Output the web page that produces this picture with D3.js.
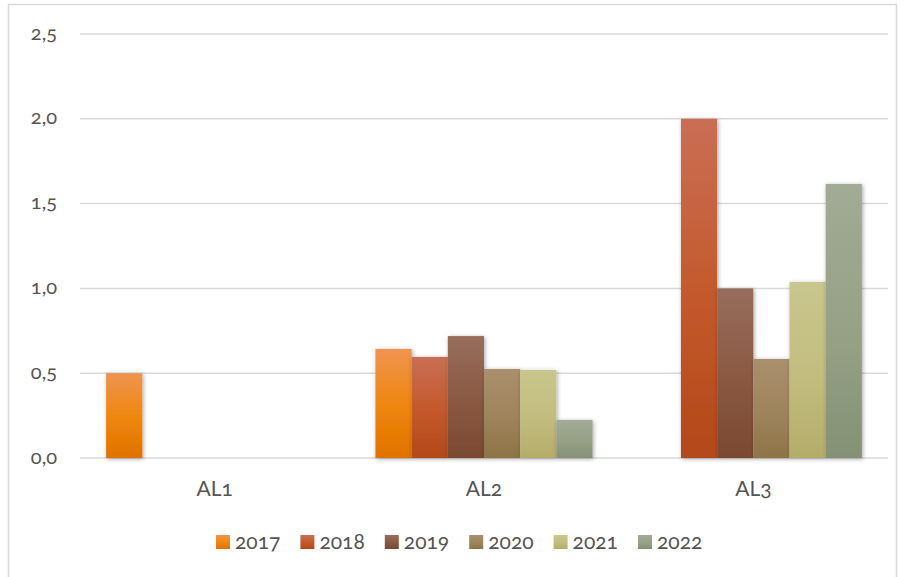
<!DOCTYPE html>
<html>
<head>
<meta charset="utf-8">
<script src="https://cdn.jsdelivr.net/npm/d3@7"></script>
<style>
  html, body { margin: 0; padding: 0; background: #fff; }
  svg text { font-family: Lato, "Open Sans", sans-serif; font-variant-numeric: oldstyle-nums; fill: #545454; }
</style>
</head>
<body>
<svg id="chart" width="904" height="577"></svg>
<script>
const categories = ["AL1", "AL2", "AL3"];
const years = ["2017", "2018", "2019", "2020", "2021", "2022"];
const values2017 = [0.50, 0.643, 0];
const values2018 = [0, 0.596, 2.00];
const values2019 = [0, 0.719, 1.00];
const values2020 = [0, 0.525, 0.584];
const values2021 = [0, 0.519, 1.038];
const values2022 = [0, 0.224, 1.616];
const yTicks = [0, 0.5, 1.0, 1.5, 2.0, 2.5];

const seriesValues = [values2017, values2018, values2019, values2020, values2021, values2022];
// gradient stops per series: top, middle, bottom
const palette = [
  ["#EF9450", "#EE860A", "#DF7200"],
  ["#C96E55", "#C3582A", "#B3481A"],
  ["#976E5D", "#8A5841", "#7A4931"],
  ["#AA8F6E", "#9E845C", "#8E7346"],
  ["#C9C68E", "#C2BD7E", "#B4AD6A"],
  ["#A1AB96", "#96A186", "#849175"]
];

const svg = d3.select("#chart");
const plotLeft = 80, plotRight = 888, plotTop = 34, plotBottom = 458;

// outer frame
svg.append("rect").attr("x", 8.5).attr("y", 4.5).attr("width", 888).attr("height", 580)
  .attr("fill", "none").attr("stroke", "#D9D9D9").attr("stroke-width", 1.5);

const defs = svg.append("defs");
palette.forEach((c, i) => {
  const g = defs.append("linearGradient").attr("id", "grad" + i)
    .attr("x1", 0).attr("y1", 0).attr("x2", 0).attr("y2", 1);
  g.append("stop").attr("offset", "0%").attr("stop-color", c[0]);
  g.append("stop").attr("offset", "55%").attr("stop-color", c[1]);
  g.append("stop").attr("offset", "100%").attr("stop-color", c[2]);
});
const shadow = defs.append("filter").attr("id", "shadow")
  .attr("x", "-30%").attr("y", "-10%").attr("width", "160%").attr("height", "120%");
shadow.append("feDropShadow").attr("dx", 1).attr("dy", 1).attr("stdDeviation", 2.2)
  .attr("flood-color", "#000").attr("flood-opacity", 0.35);

const y = d3.scaleLinear().domain([0, 2.5]).range([plotBottom, plotTop]);
const x0 = d3.scaleBand().domain(categories).range([plotLeft, plotRight]);
// each group of six bars spans ~80% of its category
const groupWidth = x0.bandwidth() * 0.806;
const x1 = d3.scaleBand().domain(years)
  .range([(x0.bandwidth() - groupWidth) / 2, (x0.bandwidth() + groupWidth) / 2]);

const fmt = v => d3.format(".1f")(v).replace(".", ",");

// gridlines
svg.append("g").selectAll("line").data(yTicks).join("line")
  .attr("x1", plotLeft).attr("x2", plotRight)
  .attr("y1", d => y(d)).attr("y2", d => y(d))
  .attr("stroke", "#D9D9D9").attr("stroke-width", 1.5);

// y axis labels
const yAxis = svg.append("g").attr("transform", `translate(${plotLeft - 23},0)`)
  .call(d3.axisLeft(y).tickValues(yTicks).tickFormat(fmt).tickSize(0).tickPadding(0));
yAxis.select(".domain").remove();
yAxis.selectAll("text").attr("font-size", 20).attr("dy", "0.25em");

// bars
const groups = svg.append("g").selectAll("g").data(categories).join("g")
  .attr("transform", d => `translate(${x0(d)},0)`);
groups.selectAll("rect")
  .data((cat, ci) => years.map((yr, si) => ({ yr, si, v: seriesValues[si][ci] })).filter(d => d.v > 0))
  .join("rect")
  .attr("x", d => x1(d.yr))
  .attr("width", x1.bandwidth())
  .attr("y", d => y(d.v))
  .attr("height", d => y(0) - y(d.v))
  .attr("fill", d => `url(#grad${d.si})`)
  .attr("filter", "url(#shadow)");

// x axis labels
const xAxis = svg.append("g").attr("transform", `translate(0,${plotBottom})`)
  .call(d3.axisBottom(x0).tickSize(0).tickPadding(31));
xAxis.select(".domain").remove();
xAxis.selectAll("text").attr("font-size", 21).attr("dy", "0.32em");

// legend
const legend = svg.append("g").selectAll("g").data(years).join("g")
  .attr("transform", (d, i) => `translate(${216 + i * 84.4},535)`);
legend.append("rect").attr("width", 14).attr("height", 14)
  .attr("fill", (d, i) => `url(#grad${i})`);
legend.append("text").attr("x", 19).attr("y", 14)
  .attr("font-size", 21).text(d => d);
</script>
</body>
</html>
